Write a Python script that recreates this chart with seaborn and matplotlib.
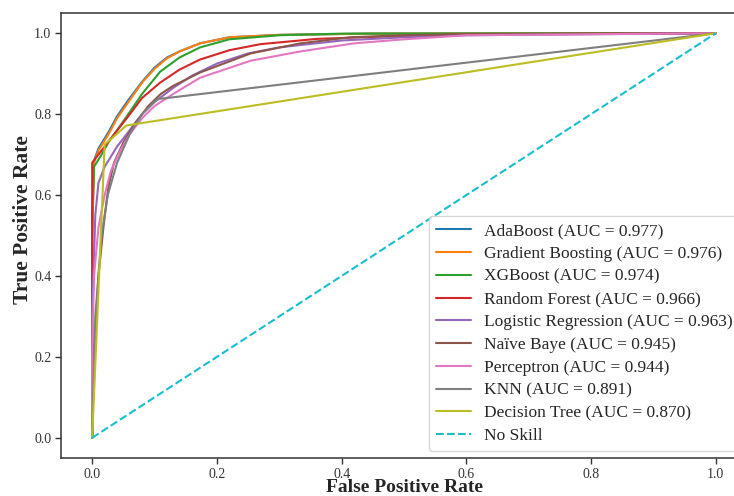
import matplotlib
matplotlib.use("Agg")
import matplotlib.pyplot as plt
import seaborn as sns
import numpy as np

# ROC curve points (false positive rate, true positive rate) per model
ada_fpr = [0.0, 0.0, 0.003, 0.01, 0.026, 0.04, 0.058, 0.08, 0.1, 0.12, 0.14, 0.173, 0.22, 0.3, 0.45, 1.0]
ada_tpr = [0.0, 0.5, 0.685, 0.715, 0.755, 0.795, 0.835, 0.88, 0.915, 0.94, 0.955, 0.975, 0.99, 0.996, 0.999, 1.0]

gb_fpr = [0.0, 0.0, 0.003, 0.01, 0.026, 0.04, 0.058, 0.08, 0.1, 0.12, 0.14, 0.173, 0.22, 0.3, 0.45, 1.0]
gb_tpr = [0.0, 0.5, 0.68, 0.71, 0.75, 0.79, 0.83, 0.878, 0.912, 0.938, 0.955, 0.975, 0.99, 0.996, 0.999, 1.0]

xgb_fpr = [0.0, 0.0, 0.003, 0.015, 0.026, 0.058, 0.08, 0.109, 0.14, 0.173, 0.22, 0.3, 0.4, 1.0]
xgb_tpr = [0.0, 0.55, 0.67, 0.7, 0.73, 0.8, 0.85, 0.905, 0.94, 0.965, 0.985, 0.995, 0.999, 1.0]

rf_fpr = [0.0, 0.0, 0.01, 0.03, 0.058, 0.08, 0.109, 0.14, 0.173, 0.22, 0.27, 0.36, 0.47, 0.6, 1.0]
rf_tpr = [0.0, 0.68, 0.70, 0.74, 0.795, 0.84, 0.878, 0.91, 0.935, 0.958, 0.973, 0.986, 0.992, 0.997, 1.0]

lr_fpr = [0.0, 0.0, 0.005, 0.01, 0.02, 0.04, 0.06, 0.08, 0.1, 0.13, 0.16, 0.2, 0.25, 0.3, 0.4, 0.5, 0.6, 1.0]
lr_tpr = [0.0, 0.3, 0.55, 0.63, 0.67, 0.72, 0.76, 0.80, 0.83, 0.865, 0.895, 0.925, 0.95, 0.965, 0.982, 0.99, 0.995, 1.0]

nb_fpr = [0.0, 0.003, 0.01, 0.018, 0.026, 0.035, 0.05, 0.07, 0.09, 0.11, 0.13, 0.173, 0.254, 0.334, 0.414, 0.5, 0.6, 1.0]
nb_tpr = [0.0, 0.2, 0.4, 0.52, 0.62, 0.68, 0.73, 0.78, 0.82, 0.85, 0.87, 0.903, 0.95, 0.975, 0.99, 0.995, 0.998, 1.0]

pc_fpr = [0.0, 0.0, 0.003, 0.01, 0.02, 0.03, 0.045, 0.06, 0.08, 0.1, 0.13, 0.173, 0.254, 0.334, 0.42, 0.5, 0.6, 1.0]
pc_tpr = [0.0, 0.2, 0.4, 0.52, 0.6, 0.66, 0.71, 0.75, 0.79, 0.82, 0.85, 0.89, 0.932, 0.955, 0.975, 0.985, 0.995, 1.0]

knn_fpr = [0.0, 0.005, 0.015, 0.025, 0.04, 0.06, 0.08, 0.104, 1.0]
knn_tpr = [0.0, 0.3, 0.5, 0.6, 0.68, 0.75, 0.8, 0.837, 1.0]

dt_fpr = [0.0, 0.02, 0.055, 1.0]
dt_tpr = [0.0, 0.725, 0.772, 1.0]

models = ["AdaBoost", "Gradient Boosting", "XGBoost", "Random Forest",
          "Logistic Regression", "Naïve Baye", "Perceptron", "KNN", "Decision Tree"]
aucs = [0.977, 0.976, 0.974, 0.966, 0.963, 0.945, 0.944, 0.891, 0.870]
curves = [(ada_fpr, ada_tpr), (gb_fpr, gb_tpr), (xgb_fpr, xgb_tpr), (rf_fpr, rf_tpr),
          (lr_fpr, lr_tpr), (nb_fpr, nb_tpr), (pc_fpr, pc_tpr), (knn_fpr, knn_tpr),
          (dt_fpr, dt_tpr)]
no_skill = [0.0, 1.0]

sns.set_style("ticks")
plt.rcParams["font.family"] = ["Liberation Serif", "DejaVu Serif"]

fig = plt.figure(figsize=(7.34, 4.96), dpi=100)
ax = fig.add_axes([61 / 734, 1 - 458 / 496, 686 / 734, 445 / 496])

palette = sns.color_palette("tab10", 10)
for i, (name, auc, (fpr, tpr)) in enumerate(zip(models, aucs, curves)):
    sns.lineplot(x=fpr, y=tpr, estimator=None, sort=False, ax=ax,
                 color=palette[i], lw=1.5, label=f"{name} (AUC = {auc:.3f})")

sns.lineplot(x=no_skill, y=no_skill, estimator=None, sort=False, ax=ax,
             color="#17becf", lw=1.5, linestyle="--", label="No Skill")

ax.set_xlim(-0.05, 1.05)
ax.set_ylim(-0.05, 1.05)
ax.set_xticks([0.0, 0.2, 0.4, 0.6, 0.8, 1.0])
ax.set_yticks([0.0, 0.2, 0.4, 0.6, 0.8, 1.0])
ax.tick_params(labelsize=10, colors="#333333", length=4, width=1, pad=3)
ax.set_xlabel("False Positive Rate", fontsize=14, fontweight="bold", labelpad=-1)
ax.set_ylabel("True Positive Rate", fontsize=15.5, fontweight="bold")
ax.yaxis.set_label_coords(-0.041, 0.535)
for s in ax.spines.values():
    s.set_color("#333333")
    s.set_linewidth(1.1)

leg = ax.legend(loc="lower right", fontsize=12.5, frameon=True,
                labelspacing=0.38, borderaxespad=0.4)
leg.get_frame().set_edgecolor("#cccccc")

fig.savefig("out.png", dpi=100)
